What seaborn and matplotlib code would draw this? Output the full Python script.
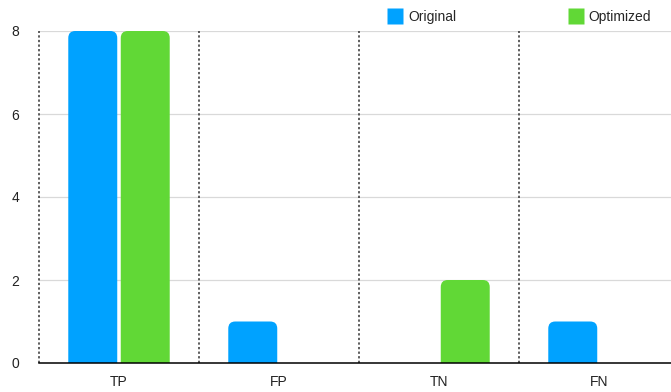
import matplotlib
matplotlib.use('Agg')
import matplotlib.pyplot as plt
from matplotlib.patches import FancyBboxPatch
from matplotlib.lines import Line2D
import seaborn as sns
import pandas as pd

categories = ['TP', 'FP', 'TN', 'FN']
original = [8, 1, 0, 1]
optimized = [8, 0, 2, 0]
series = ['Original', 'Optimized']
colors = ['#00A2FF', '#61D836']

df = pd.DataFrame({
    'cat': categories * 2,
    'value': original + optimized,
    'series': [series[0]] * 4 + [series[1]] * 4,
})

sns.set_style('white')
plt.rcParams['font.family'] = ['Liberation Sans', 'DejaVu Sans']

fig = plt.figure(figsize=(6.71, 3.92), dpi=100)
ax = fig.add_axes([39 / 671, 29 / 392, 1 - 39 / 671, 332 / 392])

sns.barplot(data=df, x='cat', y='value', hue='series', palette=colors,
            width=0.656, gap=0.067, ax=ax, legend=False, saturation=1)

# swap the plain bars for ones with rounded tops
px_x = 160.0
px_y = 41.5
r = 7.0 / px_x
for p in list(ax.patches):
    h = p.get_height()
    x0 = p.get_x()
    w = p.get_width()
    fc = p.get_facecolor()
    p.remove()
    if h <= 0:
        continue
    bar = FancyBboxPatch((x0, -1), w, h + 1,
                         boxstyle='round,pad=0,rounding_size=%f' % r,
                         mutation_aspect=px_x / px_y,
                         facecolor=fc, edgecolor='none', zorder=3)
    ax.add_patch(bar)

ax.set_xlim(-0.5, 3.45)
ax.set_ylim(0, 8)
ax.set_yticks([0, 2, 4, 6, 8])
ax.set_xlabel('')
ax.set_ylabel('')

# grid and separators
for y in [2, 4, 6, 8]:
    ax.axhline(y, color='#d9d9d9', lw=0.9, zorder=1)
for x in [-0.5, 0.5, 1.5, 2.5]:
    ax.axvline(x, color='#333333', lw=1.1, ls=(0, (1.5, 1.5)), zorder=2, clip_on=False)

for s in ['top', 'right', 'left']:
    ax.spines[s].set_visible(False)
ax.spines['bottom'].set_color('black')
ax.spines['bottom'].set_linewidth(1.1)
ax.spines['bottom'].set_zorder(4)

ax.set_xticks([0, 1, 2, 3])
ax.set_xticklabels(categories, fontsize=10, color='#222222')
ax.set_xticks([-0.5, 0.5, 1.5, 2.5], minor=True)
ax.tick_params(axis='x', which='major', length=0, pad=9)
ax.tick_params(axis='x', which='minor', length=4, width=1.1, color='#333333', direction='out')
ax.tick_params(axis='y', length=0, pad=17, labelsize=10, labelcolor='#222222')
for t in ax.get_yticklabels():
    t.set_horizontalalignment('center')

handles = [Line2D([0], [0], marker='s', color='none', markerfacecolor=c,
                  markeredgecolor='none', markersize=11) for c in colors]
fig.legend(handles, series, loc='center left', bbox_to_anchor=(381 / 671, 1 - 17 / 392),
           ncol=2, frameon=False, fontsize=10, columnspacing=8.1,
           handletextpad=0.45, handlelength=1.0, borderpad=0)

fig.savefig('out.png', dpi=100)
